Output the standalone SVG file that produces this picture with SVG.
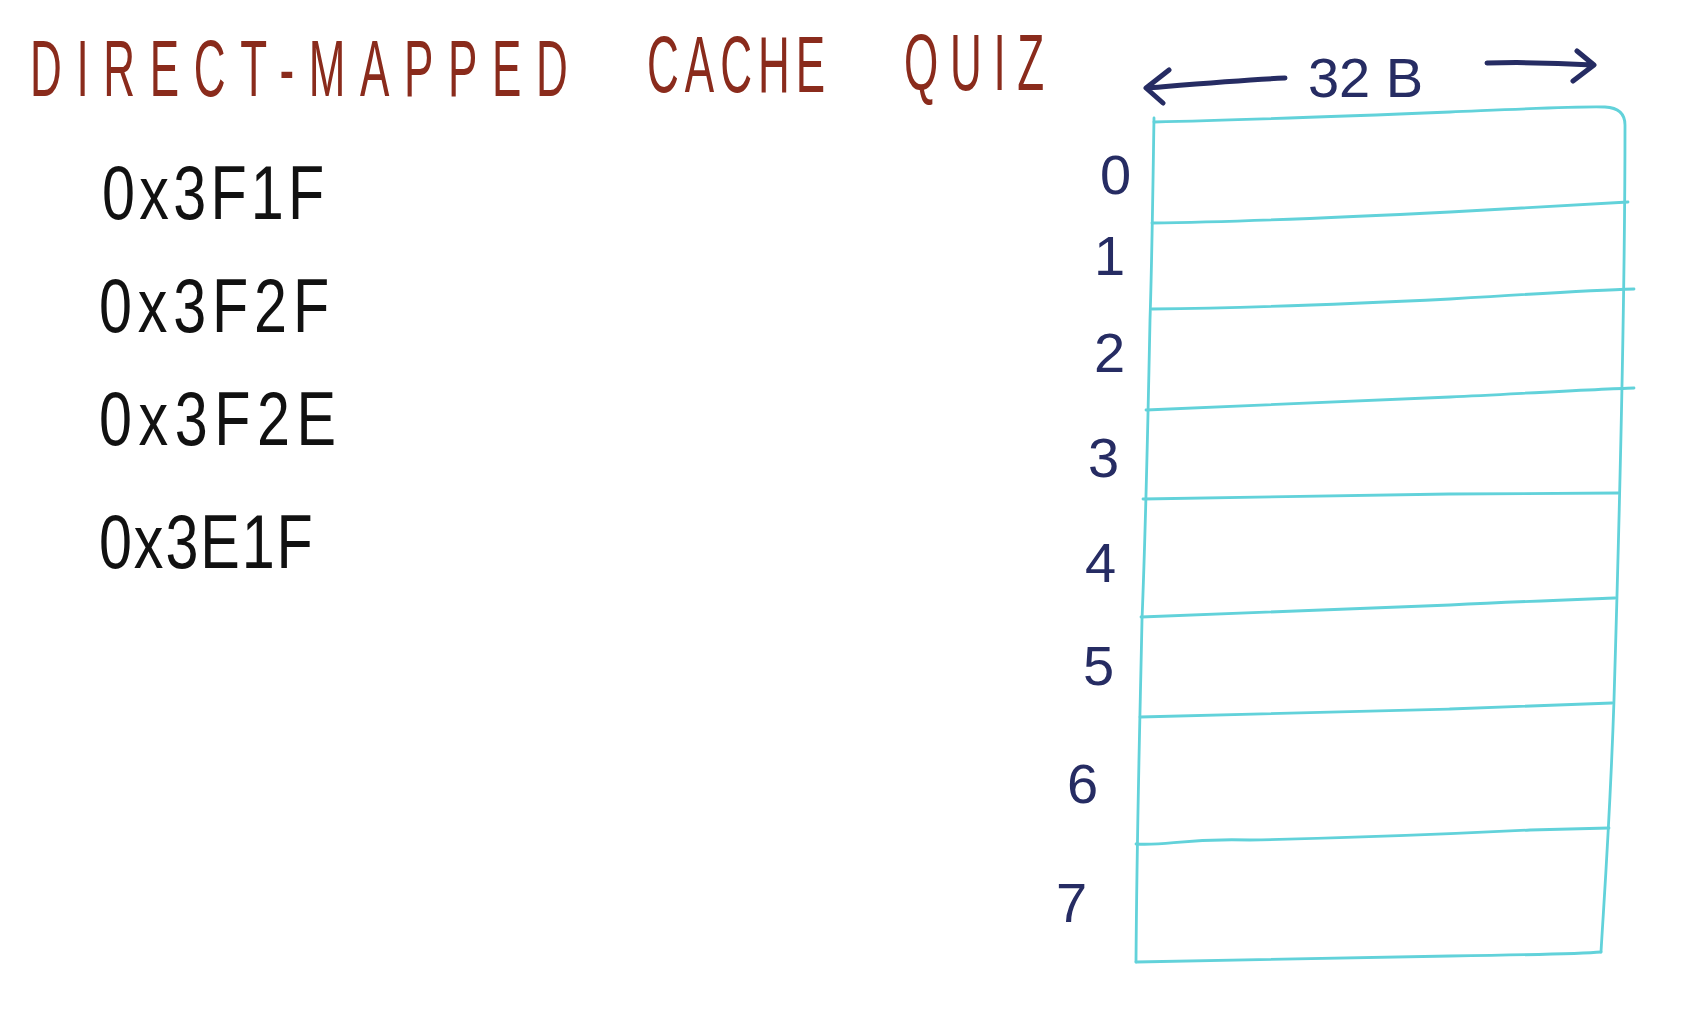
<svg xmlns="http://www.w3.org/2000/svg" width="1691" height="1025" viewBox="0 0 1691 1025">
<style>
.title{font-family:"Liberation Sans",Arial,sans-serif;font-size:80px;fill:#8A2B1C}
.hex{font-family:"Liberation Sans",Arial,sans-serif;font-size:76px;fill:#111}
.lbl{font-family:"Liberation Sans",Arial,sans-serif;font-size:56px;fill:#262c63}
.grid{fill:none;stroke:#62D2DA;stroke-width:2.8;stroke-linecap:round;stroke-linejoin:round}
.arr{fill:none;stroke:#262c63;stroke-width:5;stroke-linecap:round;stroke-linejoin:round}
</style>
<rect width="1691" height="1025" fill="#ffffff"/>
<g id="title">
<text class="title" transform="translate(30,96) scale(0.55,1)" x="0" y="0" textLength="978" lengthAdjust="spacing">DIRECT-MAPPED</text>
<text class="title" transform="translate(647,92) scale(0.55,1)" x="0" y="0" textLength="324" lengthAdjust="spacing">CACHE</text>
<text class="title" transform="translate(904,90) scale(0.55,1)" x="0" y="0" textLength="255" lengthAdjust="spacing">QUIZ</text>
</g>
<g id="addresses">
<text class="hex" transform="translate(102,219) scale(0.78,1)" x="0" y="0" textLength="285" lengthAdjust="spacing">0x3F1F</text>
<text class="hex" transform="translate(99,332) scale(0.78,1)" x="0" y="0" textLength="295" lengthAdjust="spacing">0x3F2F</text>
<text class="hex" transform="translate(99,445) scale(0.78,1)" x="0" y="0" textLength="304" lengthAdjust="spacing">0x3F2E</text>
<text class="hex" transform="translate(99,568) scale(0.78,1)" x="0" y="0" textLength="274" lengthAdjust="spacing">0x3E1F</text>
</g>
<g id="width-label">
<text class="lbl" x="1308" y="97" textLength="115" lengthAdjust="spacing">32 B</text>
<path class="arr" d="M1285,78 C1240,80 1195,84 1147,88 M1169,70 L1146,88 L1163,103"/>
<path class="arr" d="M1487,63 C1525,62 1560,63 1593,65 M1577,51 L1594,65 L1573,81"/>
</g>
<g id="cache">
<path class="grid" d="M1154,118 C1153,180 1152,260 1150,320 C1148,420 1146,520 1142,620 C1140,720 1137,820 1136,962"/>
<path class="grid" d="M1154,122 C1250,120 1350,116 1450,112 C1520,109 1580,106 1605,107 Q1625,108 1625,125 C1625,300 1620,500 1614,700 C1610,820 1604,900 1601,952"/>
<path class="grid" d="M1136,962 C1250,960 1350,958 1450,956 C1520,955 1580,954 1601,952"/>
<path class="grid" d="M1152,223 C1250,222 1350,217 1450,212 C1530,207 1590,204 1628,202"/>
<path class="grid" d="M1152,309 C1250,308 1350,304 1450,299 C1530,294 1600,290 1634,289"/>
<path class="grid" d="M1146,410 C1250,406 1350,401 1450,397 C1530,393 1600,389 1634,388"/>
<path class="grid" d="M1143,499 C1250,497 1350,496 1450,494 C1530,493 1590,493 1618,493"/>
<path class="grid" d="M1141,617 C1250,613 1350,609 1450,605 C1530,601 1590,599 1615,598"/>
<path class="grid" d="M1140,717 C1250,714 1350,712 1450,709 C1530,706 1590,704 1612,703"/>
<path class="grid" d="M1136,844 C1170,846 1180,838 1250,840 C1350,838 1450,834 1530,830 C1570,829 1600,828 1609,828"/>
</g>
<g id="row-labels">
<text class="lbl" x="1100" y="194">0</text>
<text class="lbl" x="1094" y="275">1</text>
<text class="lbl" x="1094" y="372">2</text>
<text class="lbl" x="1088" y="477">3</text>
<text class="lbl" x="1085" y="582">4</text>
<text class="lbl" x="1083" y="685">5</text>
<text class="lbl" x="1067" y="803">6</text>
<text class="lbl" x="1056" y="922">7</text>
</g>
</svg>
